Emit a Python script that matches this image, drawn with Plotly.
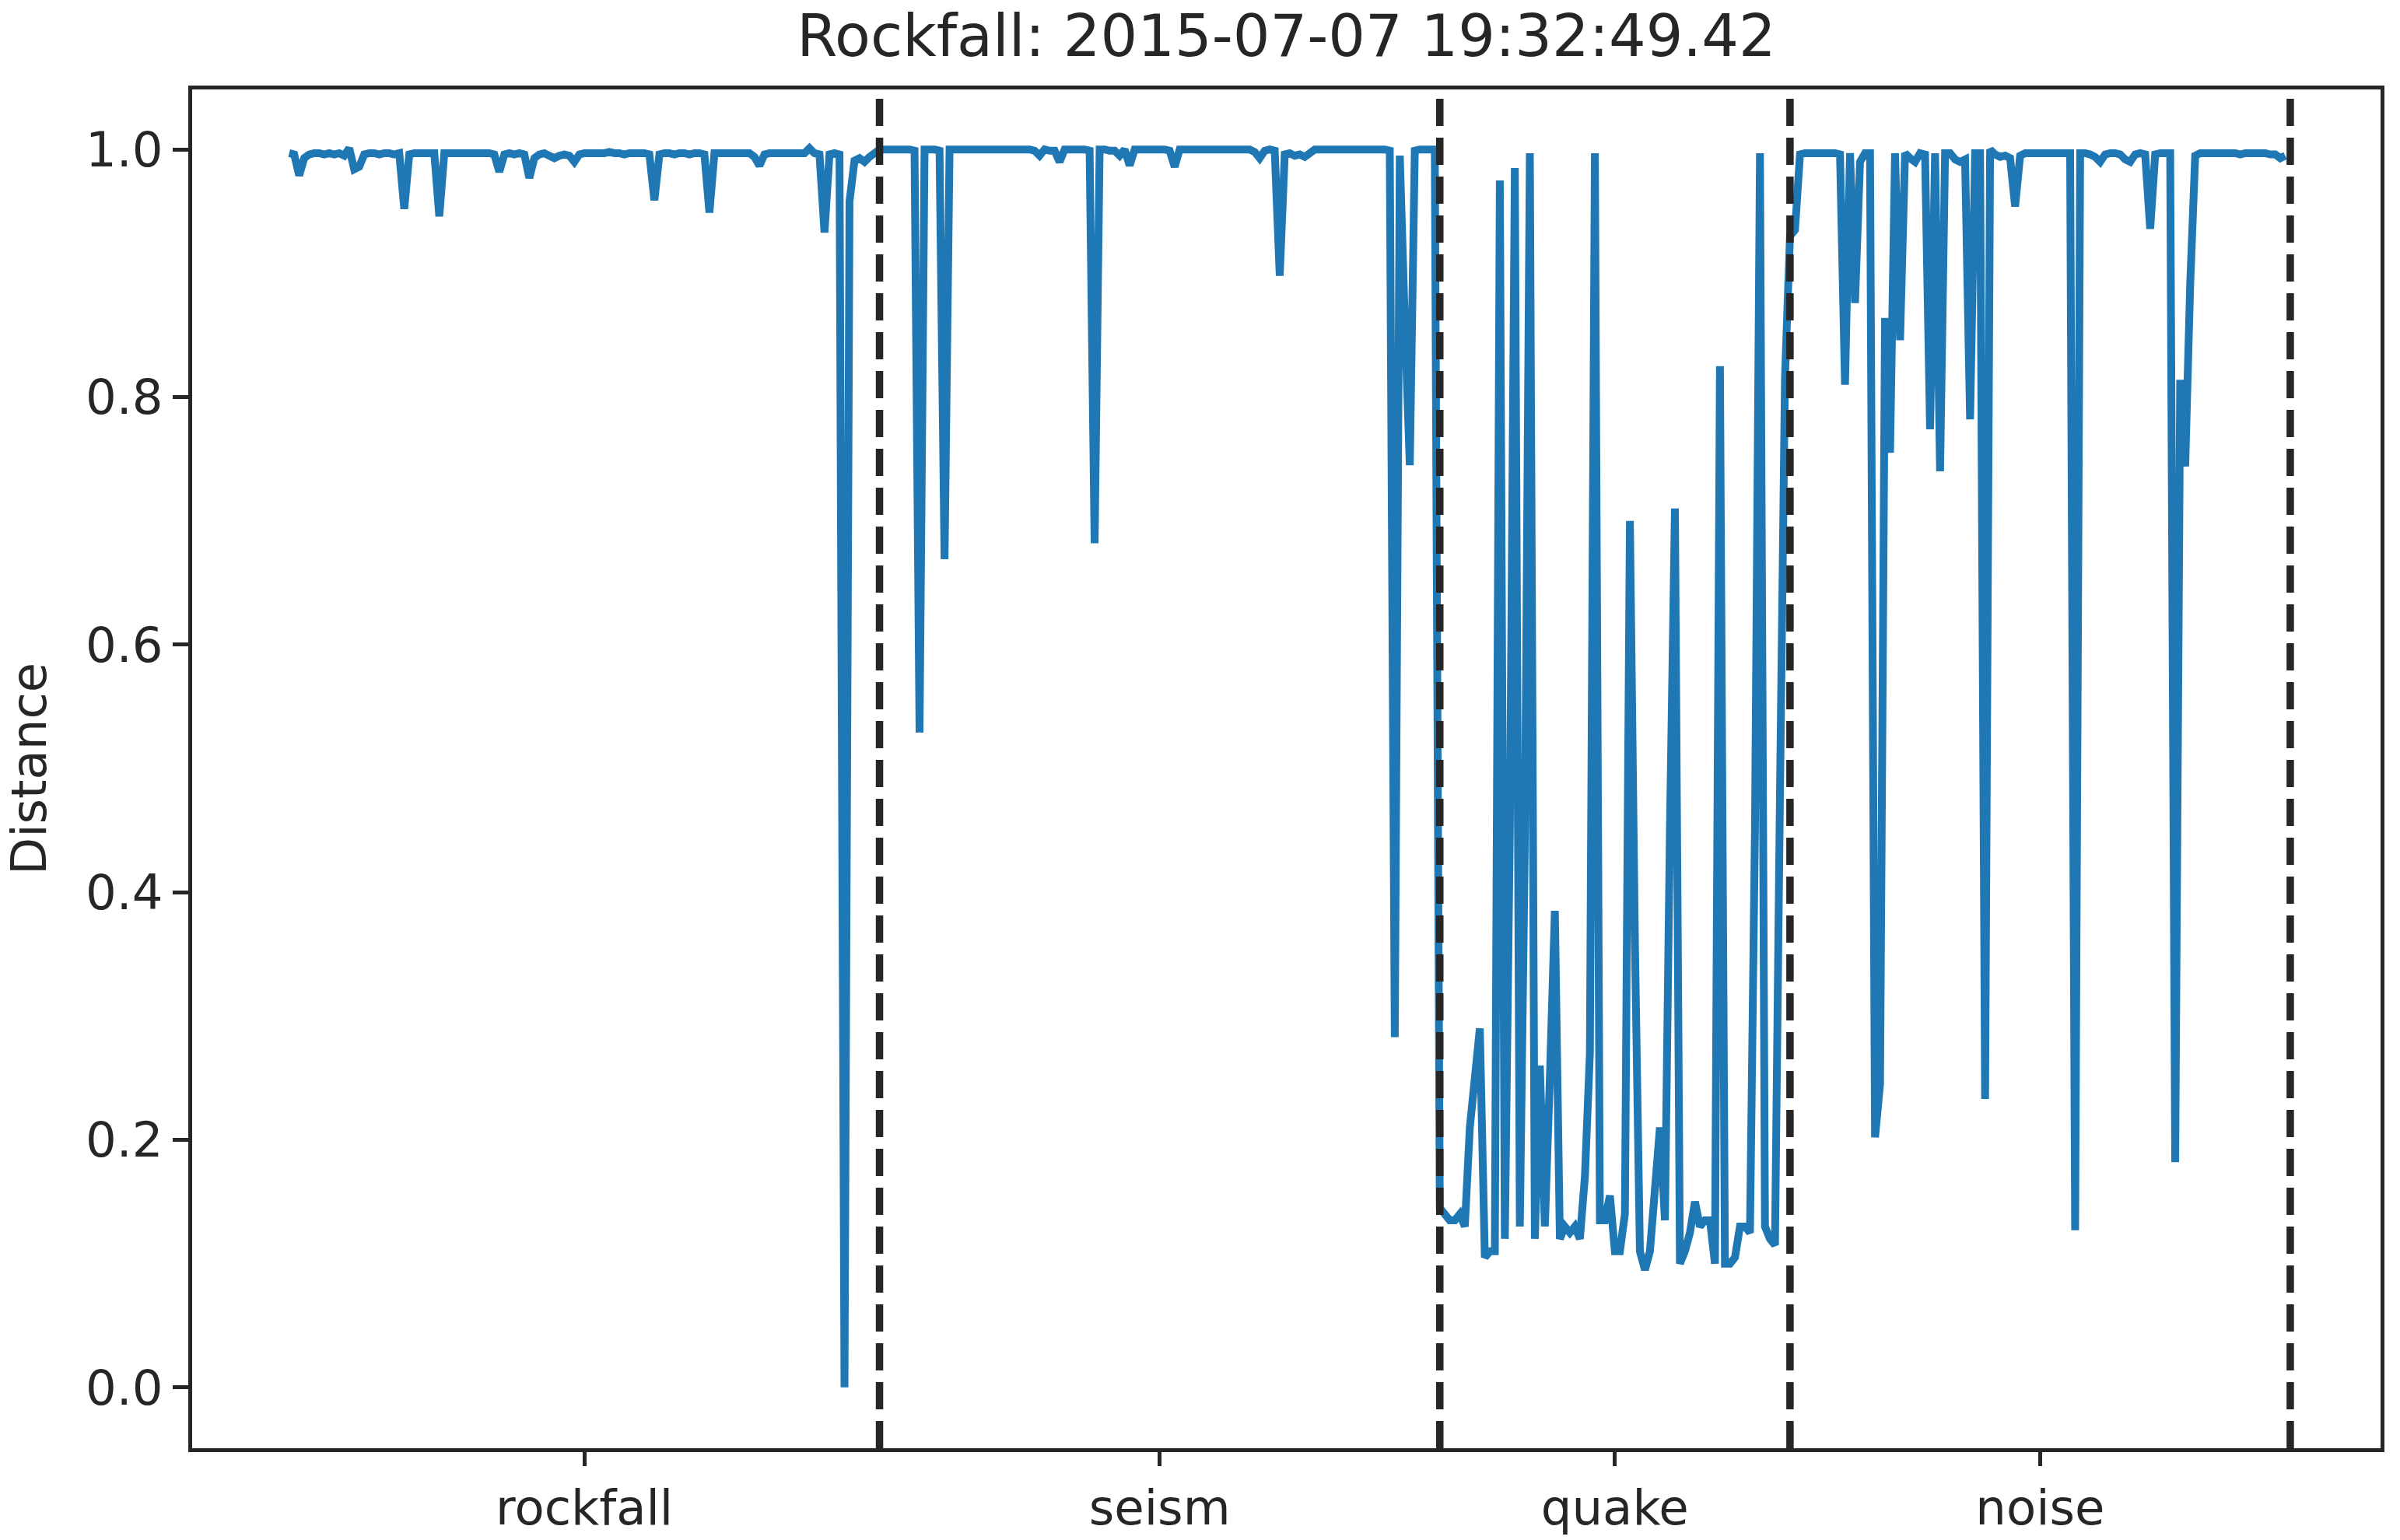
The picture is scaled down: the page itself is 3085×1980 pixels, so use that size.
import plotly.graph_objects as go

# ---------------- data ----------------
class_names = ["rockfall", "seism", "quake", "noise"]

rockfall_vals = [
    0.997, 0.996, 0.979, 0.993, 0.996, 0.997, 0.997, 0.996, 0.997, 0.996,
    0.997, 0.995, 1.001, 0.984, 0.986, 0.996, 0.997, 0.997, 0.996, 0.997,
    0.997, 0.996, 0.997, 0.952, 0.996, 0.997, 0.997, 0.997, 0.997, 0.997,
    0.946, 0.997, 0.997, 0.997, 0.997, 0.997, 0.997, 0.997, 0.997, 0.997,
    0.997, 0.996, 0.982, 0.996, 0.997, 0.996, 0.997, 0.996, 0.977, 0.993,
    0.996, 0.997, 0.995, 0.993, 0.995, 0.996, 0.995, 0.990, 0.996, 0.997,
    0.997, 0.997, 0.997, 0.997, 0.998, 0.997, 0.997, 0.996, 0.997, 0.997,
    0.997, 0.997, 0.996, 0.959, 0.996, 0.997, 0.997, 0.996, 0.997, 0.997,
    0.996, 0.997, 0.997, 0.996, 0.949, 0.997, 0.997, 0.997, 0.997, 0.997,
    0.997, 0.997, 0.997, 0.994, 0.987, 0.996, 0.997, 0.997, 0.997, 0.997,
    0.997, 0.997, 0.997, 0.997, 1.001, 0.997, 0.996, 0.933, 0.996, 0.997,
    0.996, 0.000, 0.958, 0.991, 0.993, 0.990, 0.994, 0.997,
]

seism_vals = [
    1.000, 1.000, 1.000, 1.000, 1.000, 1.000, 1.000, 0.999, 0.529, 1.000,
    1.000, 1.000, 0.999, 0.669, 1.000, 1.000, 1.000, 1.000, 1.000, 1.000,
    1.000, 1.000, 1.000, 1.000, 1.000, 1.000, 1.000, 1.000, 1.000, 1.000,
    1.000, 0.999, 0.995, 1.000, 0.999, 0.999, 0.990, 1.000, 1.000, 1.000,
    1.000, 1.000, 0.999, 0.682, 1.000, 1.000, 0.999, 0.999, 0.995, 1.000,
    0.987, 1.000, 1.000, 1.000, 1.000, 1.000, 1.000, 1.000, 0.999, 0.986,
    1.000, 1.000, 1.000, 1.000, 1.000, 1.000, 1.000, 1.000, 1.000, 1.000,
    1.000, 1.000, 1.000, 1.000, 1.000, 0.998, 0.993, 0.999, 1.000, 0.999,
    0.898, 0.996, 0.997, 0.995, 0.996, 0.994, 0.997, 1.000, 1.000, 1.000,
    1.000, 1.000, 1.000, 1.000, 1.000, 1.000, 1.000, 1.000, 1.000, 1.000,
    1.000, 1.000, 0.999, 0.283, 0.995, 0.862, 0.745, 0.999, 1.000, 1.000,
    1.000, 1.000,
]

quake_vals = [
    0.145, 0.140, 0.135, 0.135, 0.140, 0.130, 0.210, 0.250, 0.290, 0.105,
    0.110, 0.110, 0.975, 0.120, 0.450, 0.985, 0.130, 0.440, 0.997, 0.120,
    0.260, 0.130, 0.250, 0.385, 0.120, 0.130, 0.125, 0.130, 0.120, 0.170,
    0.270, 0.997, 0.135, 0.135, 0.155, 0.110, 0.110, 0.140, 0.700, 0.360,
    0.110, 0.095, 0.110, 0.160, 0.210, 0.135, 0.450, 0.710, 0.100, 0.110,
    0.125, 0.150, 0.130, 0.135, 0.135, 0.100, 0.825, 0.100, 0.100, 0.105,
    0.130, 0.130, 0.125, 0.450, 0.997, 0.130, 0.120, 0.115, 0.480, 0.816,
]

noise_vals = [
    0.930, 0.935, 0.996, 0.997, 0.997, 0.997, 0.997, 0.997, 0.997, 0.997,
    0.996, 0.810, 0.997, 0.876, 0.990, 0.997, 0.997, 0.202, 0.245, 0.864,
    0.755, 0.997, 0.846, 0.997, 0.993, 0.990, 0.997, 0.996, 0.774, 0.997,
    0.740, 0.997, 0.997, 0.992, 0.990, 0.992, 0.782, 0.997, 0.997, 0.233,
    1.000, 0.996, 0.994, 0.995, 0.993, 0.954, 0.995, 0.997, 0.997, 0.997,
    0.997, 0.997, 0.997, 0.997, 0.997, 0.997, 0.997, 0.127, 0.997, 0.997,
    0.996, 0.994, 0.990, 0.996, 0.997, 0.997, 0.996, 0.992, 0.990, 0.996,
    0.997, 0.996, 0.936, 0.996, 0.997, 0.997, 0.997, 0.182, 0.814, 0.744,
    0.891, 0.995, 0.997, 0.997, 0.997, 0.997, 0.997, 0.997, 0.997, 0.997,
    0.996, 0.997, 0.997, 0.997, 0.997, 0.997, 0.996, 0.996, 0.993, 0.995,
]

y_ticks = [0.0, 0.2, 0.4, 0.6, 0.8, 1.0]
y_tick_labels = ["0.0", "0.2", "0.4", "0.6", "0.8", "1.0"]
title_text = "Rockfall: 2015-07-07 19:32:49.42"
y_label = "Distance"

# ---------------- derived ----------------
segments = [rockfall_vals, seism_vals, quake_vals, noise_vals]
values = [v for seg in segments for v in seg]
x_idx = list(range(len(values)))

bounds = []
mids = []
start = 0
for seg in segments:
    mids.append(start + len(seg) / 2)
    start += len(seg)
    bounds.append(start)

TEXT = "#262626"
FONT = "DejaVu Sans"
W, H = 3085, 1980
L, R, T, B = 247, 25, 115, 118

fig = go.Figure()
fig.add_trace(go.Scatter(
    x=x_idx, y=values, mode="lines",
    line=dict(color="#1f77b4", width=10, simplify=False),
    showlegend=False, hoverinfo="skip",
))

for b in bounds:
    fig.add_shape(
        type="line", xref="x", yref="paper",
        x0=b, x1=b, y0=0, y1=1,
        line=dict(color=TEXT, width=9.5, dash="35px,15px"),
        layer="above",
    )

plot_w = W - L - R
fig.add_annotation(
    text=y_label, textangle=-90,
    xref="paper", yref="paper",
    x=(37.5 - L) / plot_w, y=0.5,
    xanchor="center", yanchor="middle",
    showarrow=False,
    font=dict(family=FONT, size=62.5, color=TEXT),
)

fig.update_layout(
    width=W, height=H,
    margin=dict(l=L, r=R, t=T, b=B, pad=0, autoexpand=False),
    paper_bgcolor="white", plot_bgcolor="white",
    font=dict(family=FONT, size=62.5, color=TEXT),
    hovermode=False,
    title=dict(
        text=title_text,
        x=0.5, xref="paper", xanchor="center",
        y=1 - 46 / H, yref="container", yanchor="middle",
        font=dict(family=FONT, size=75, color=TEXT),
    ),
    xaxis=dict(
        range=[-19.4, 418.05], automargin=False,
        tickmode="array", tickvals=mids, ticktext=class_names,
        ticks="outside", ticklen=18, tickwidth=5, tickcolor=TEXT,
        showline=True, linewidth=5, linecolor=TEXT, mirror=True,
        showgrid=False, zeroline=False,
        tickfont=dict(family=FONT, size=62.5, color=TEXT),
    ),
    yaxis=dict(
        range=[-0.0491, 1.0485], automargin=False,
        tickmode="array", tickvals=y_ticks, ticktext=y_tick_labels,
        ticks="outside", ticklen=20, tickwidth=5, tickcolor=TEXT,
        showline=True, linewidth=5, linecolor=TEXT, mirror=True,
        showgrid=False, zeroline=False,
        tickfont=dict(family=FONT, size=62.5, color=TEXT),
    ),
)

fig.write_html(
    "out.html",
    config={"displayModeBar": False, "staticPlot": True},
    post_script="document.body.style.margin='0';document.body.style.padding='0';",
)
